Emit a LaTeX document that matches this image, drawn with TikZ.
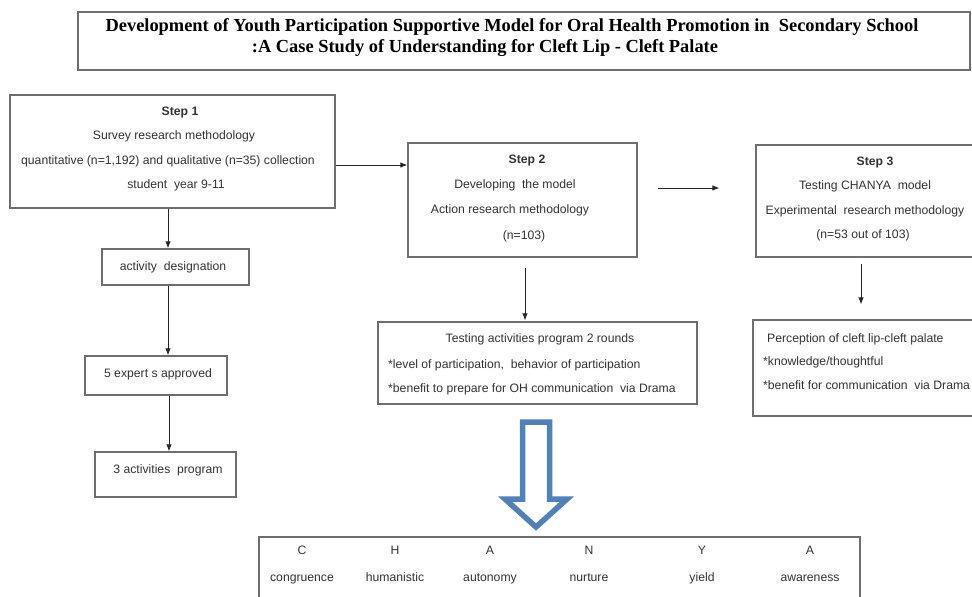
\documentclass[tikz,border=0pt]{standalone}
\usepackage{fontspec}
\setmainfont{Liberation Sans}
\newfontfamily\titlefont{Liberation Serif}
\usetikzlibrary{arrows.meta}
\definecolor{Ink}{HTML}{333333}
\definecolor{Frame}{HTML}{6E6E6E}
\definecolor{ArrowBlue}{HTML}{4F81BD}

\begin{document}
\begin{tikzpicture}[x=1pt,y=-1pt,every node/.style={font=\fontsize{12.2}{14}\selectfont,text=Ink,inner sep=0pt,text height=8.8pt,text depth=2.6pt},box/.style={draw=Frame,line width=1.3pt,fill=white},conn/.style={-{Latex[length=7pt,width=5.5pt]},draw=black!85,line width=0.9pt},steptitle/.style={font=\fontsize{12.2}{14}\selectfont\bfseries},bullet/.style={anchor=west},headline/.style={font=\titlefont\fontsize{18.4}{21}\selectfont\bfseries,text=black,text height=12.5pt,text depth=4pt}]
\useasboundingbox (0,0) rectangle (972,597);
\clip (0,0) rectangle (972,597);
\fill[white] (0,0) rectangle (972,597);
% title
\node[box,minimum width=892pt,minimum height=58pt] (title) at (524,41) {};
\node[headline] (title1) at (512,27) {Development of Youth Participation Supportive Model for Oral Health Promotion in~~Secondary School};
\node[headline] (title2) at (485,48) {:A Case Study of Understanding for Cleft Lip - Cleft Palate};
% step 1 column
\node[box,minimum width=325pt,minimum height=113pt] (step1) at (172.5,151.5) {};
\node[steptitle] (s1a) at (180,112) {Step 1};
\node (s1b) at (174,136) {Survey research methodology};
\node (s1c) at (168,161) {quantitative (n=1,192) and qualitative (n=35) collection};
\node (s1d) at (176,185) {student~~year 9-11};
\node[box,minimum width=147pt,minimum height=36pt] (act) at (175.5,267) {};
\node (acttext) at (173,267) {activity~~designation};
\node[box,minimum width=142pt,minimum height=39pt] (expert) at (156,375.5) {};
\node (experttext) at (158,374) {5 expert s approved};
\node[box,minimum width=141pt,minimum height=45pt] (prog) at (165.5,474.5) {};
\node (progtext) at (168,470) {3 activities~~program};
% step 2 column
\node[box,minimum width=229pt,minimum height=114pt] (step2) at (522.5,200) {};
\node[steptitle] (s2a) at (527,160) {Step 2};
\node (s2b) at (515,185) {Developing~~the model};
\node (s2c) at (510,210) {Action research methodology};
\node (s2d) at (524,236) {(n=103)};
\node[box,minimum width=319pt,minimum height=82pt] (test) at (537.5,363) {};
\node (testa) at (540,339) {Testing activities program 2 rounds};
\node[bullet] (testb) at (388,365) {*level of participation,~~behavior of participation};
\node[bullet] (testc) at (388,389) {*benefit to prepare for OH communication~~via Drama};
% step 3 column
\node[box,minimum width=234pt,minimum height=112pt] (step3) at (873,201) {};
\node[steptitle] (s3a) at (875,162) {Step 3};
\node (s3b) at (865,186) {Testing CHANYA~~model};
\node (s3c) at (865,211) {Experimental~~research methodology};
\node (s3d) at (863,235) {(n=53 out of 103)};
\node[box,minimum width=237pt,minimum height=96pt] (percep) at (871.5,368) {};
\node[bullet] (percepa) at (767,339) {Perception of cleft lip-cleft palate};
\node[bullet] (percepb) at (763,362) {*knowledge/thoughtful};
\node[bullet] (percepc) at (763,386) {*benefit for communication~~via Drama};
% connectors
\draw[conn] ([yshift=-13.5pt]step1.east) -- ([yshift=-13.5pt]step1.east -| step2.west);
\draw[conn,shorten <=20pt,shorten >=36pt] ([yshift=12pt]step2.east) -- ([yshift=12pt]step2.east -| step3.west);
\draw[conn,shorten <=10pt,shorten >=1pt] ([xshift=2.5pt]step2.south) -- ([xshift=2.5pt]step2.south |- test.north);
\draw[conn,shorten <=6pt,shorten >=15pt] ([xshift=-12pt]step3.south) -- ([xshift=-12pt]step3.south |- percep.north);
\draw[conn] ([xshift=-4.5pt]step1.south) -- ([xshift=-4.5pt]step1.south |- act.north);
\draw[conn] ([xshift=-7.5pt]act.south) -- ([xshift=-7.5pt]act.south |- expert.north);
\draw[conn] ([xshift=13pt]expert.south) -- ([xshift=13pt]expert.south |- prog.north);
% hollow block arrow
\draw[draw=ArrowBlue,fill=white,line width=5.5pt,line join=miter] (522.5,422) -- (549.5,422) -- (549.5,499) -- (567,499) -- (536,527) -- (505,499) -- (522.5,499) -- cycle;
% CHANYA box
\node[box,minimum width=601pt,minimum height=73pt] (chanya) at (559.5,573.5) {};
\foreach \l/\w/\x [count=\i] in {C/congruence/302,H/humanistic/395,A/autonomy/490,N/nurture/589,Y/yield/702,A/awareness/810}{
  \node (letter\i) at (\x,551) {\l};
  \node (word\i) at (\x,578) {\w};
}
\end{tikzpicture}
\end{document}
